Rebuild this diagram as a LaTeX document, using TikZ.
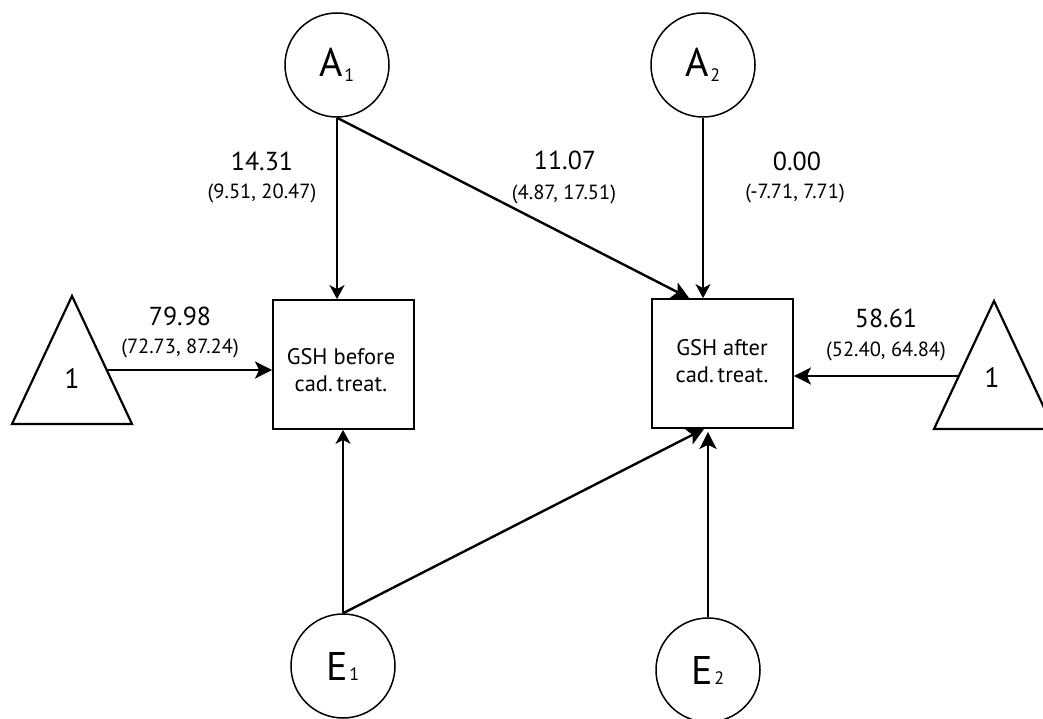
\documentclass[tikz,border=0pt]{standalone}
\usepackage{fontspec}
\setmainfont{PT Sans}
\usetikzlibrary{arrows.meta,calc}
\begin{document}
\begin{tikzpicture}[x=1pt,y=-1pt,
  latent/.style={circle,draw,line width=1.5pt,minimum size=104pt,inner sep=0pt},
  observed/.style={draw,line width=1.8pt,minimum width=141pt,minimum height=129pt,inner sep=0pt},
  obstext/.style={align=center,font=\fontsize{22.5}{27}\selectfont,inner sep=0pt},
  constant/.style={line width=2.2pt,line join=miter},
  est/.style={anchor=base,inner sep=0pt,font=\fontsize{26}{26}\selectfont},
  ci/.style={anchor=base,inner sep=0pt,font=\fontsize{20.5}{20.5}\selectfont},
  thinpath/.style={line width=1.5pt,-{Stealth[length=14pt,width=15pt,inset=4pt]}},
  thickpath/.style={line width=2.4pt,-{Stealth[length=17pt,width=17pt,inset=4pt]}},
]
\clip (0,0) rectangle (1043,719);

% latent factors: letter with a small index, dropped by #2
\newcommand{\latentlabel}[3]{\fontsize{40}{40}\selectfont #1\kern1pt\raisebox{#2}{\fontsize{18}{18}\selectfont #3}}
\node[latent] (A1) at (337,65) {\latentlabel{A}{-5pt}{1}};
\node[latent] (A2) at (703,65) {\latentlabel{A}{-5pt}{2}};
\node[latent] (E1) at (343,666) {\latentlabel{E}{0pt}{1}};
\node[latent] (E2) at (708,670) {\latentlabel{E}{0pt}{2}};

% observed variables
\node[observed] (B1) at (343.5,364.5) {};
\node[observed] (B2) at (722.5,363.5) {};
\node[obstext] (B1t) at (341,370) {GSH before\\cad.\,treat.};
\node[obstext] (B2t) at (722,361) {GSH after\\cad.\,treat.};

% mean constants
\draw[constant] (12,424) -- (72,296) -- (132,424) -- cycle;
\draw[constant] (934,429) -- (994,301) -- (1054,429) -- cycle;
\node[anchor=base,font=\fontsize{28}{28}\selectfont] (T1) at (72,388) {1};
\node[anchor=base,font=\fontsize{28}{28}\selectfont] (T2) at (992,387) {1};
\coordinate (t1) at (106.7,370);
\coordinate (t2) at (959,376);

% paths
\draw[thinpath] (A1.south) -- (A1.south |- B1.north);
\draw[thinpath] (E1.north) -- (E1.north |- B1.south);
\draw[thinpath] (A2.south) -- (A2.south |- B2.north);
\draw[thickpath] (E2.north) -- ($(E2.north |- B2.south)+(0,3)$);
\draw[thickpath] (A1.south) -- ($(B2.north west)+(38,0)$);
\draw[thickpath] (E1.north) -- ($(B2.south west)+(53,0)$);
\draw[thickpath] (t1) -- (t1 -| B1.west);
\draw[thickpath] (t2) -- (t2 -| B2.east);

% estimates with confidence intervals
\node[est] (e1) at (262,171) {14.31};
\node[ci]  (c1) at (262,199) {(9.51, 20.47)};
\node[est] (e2) at (565,170) {11.07};
\node[ci]  (c2) at (564,200) {(4.87, 17.51)};
\node[est] (e3) at (797,171) {0.00};
\node[ci]  (c3) at (795,199) {(-7.71, 7.71)};
\node[est] (e4) at (180,325) {79.98};
\node[ci]  (c4) at (180,353) {(72.73, 87.24)};
\node[est] (e5) at (886,327) {58.61};
\node[ci]  (c5) at (886,356) {(52.40, 64.84)};
\end{tikzpicture}
\end{document}
